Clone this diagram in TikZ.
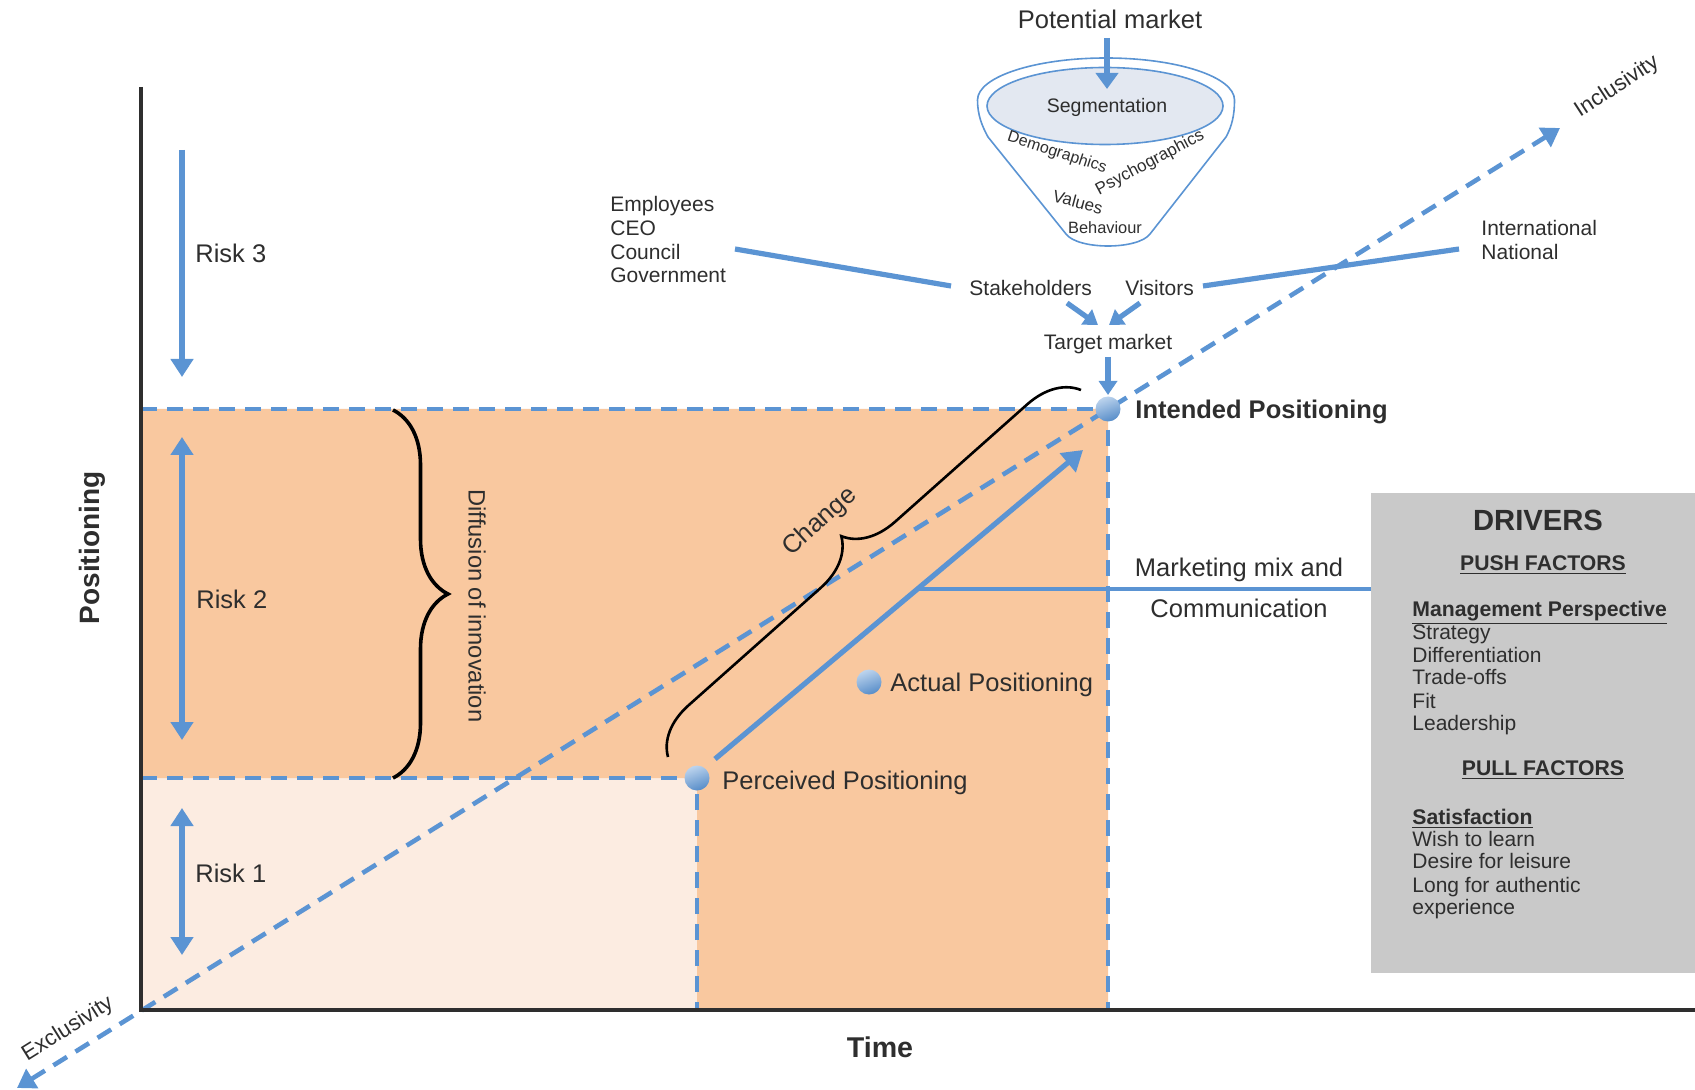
\documentclass[tikz,border=0pt]{standalone}
\usepackage{fontspec}
\setmainfont{Liberation Sans}
\usetikzlibrary{arrows.meta,decorations.pathreplacing,shadings}
\definecolor{bl}{HTML}{5B94D3}
\definecolor{orA}{HTML}{F9C89F}
\definecolor{orB}{HTML}{FCECE1}
\definecolor{txtc}{HTML}{2E2E2E}
\definecolor{boxg}{HTML}{C9C9C9}
\definecolor{segf}{HTML}{E3E8F1}
\begin{document}
\begin{tikzpicture}[x=0.5pt,y=-0.5pt,
 every node/.style={inner sep=0pt, text=txtc},
 fA/.style={font=\fontsize{12.75}{15}\selectfont},
 fAb/.style={font=\fontsize{12.75}{15}\selectfont\bfseries},
 fB/.style={font=\fontsize{10.5}{12.6}\selectfont},
 fBb/.style={font=\fontsize{10.6}{12.6}\selectfont\bfseries},
 bdash/.style={draw=bl, line width=2.3pt, dash pattern=on 8pt off 5pt},
 bsolid/.style={draw=bl, line width=2.6pt},
 atip/.style={-{Triangle[width=11pt,length=9pt]}},
 btip/.style={{Triangle[width=11pt,length=9pt]}-{Triangle[width=11pt,length=9pt]}},
 stip/.style={-{Triangle[width=9pt,length=7pt]}},
 bdot/.style={circle, minimum size=12.5pt, top color=bl!40!white, bottom color=bl!95!black, shading angle=20},
 funl/.style={draw=bl, line width=0.8pt},
 bracel/.style={draw=black, decorate},
]
\useasboundingbox (0,0) rectangle (1695,1090);

% regions
\fill[orB] (141,778) rectangle (697,1010);
\fill[orA] (141,409) -- (1108,409) -- (1108,1010) -- (697,1010) -- (697,778) -- (141,778) -- cycle;
\fill[boxg] (1371,493) rectangle (1695,973);

% dashed frame lines
\draw[bdash] (141,409) -- (1108,409) -- (1108,1010);
\draw[bdash] (141,778) -- (697,778) -- (697,1010);

% diagonal
\coordinate (exA) at (17,1088);
\coordinate (inA) at (1560,128);
\draw[bdash, btip] (exA) -- (inA);

% axes
\draw[line width=2pt, draw=txtc] (141,87) -- (141,1010) -- (1695,1010);

% braces
\coordinate (dbt) at (393,410);
\coordinate (dbb) at (393,778);
\draw[bracel, line width=1.8pt, decoration={brace, amplitude=27.5pt}] (dbt) -- (dbb);
\coordinate (cbA) at (668,757);
\coordinate (cbB) at (1081,390);
\draw[bracel, line width=1.3pt, decoration={brace, amplitude=25pt}] (cbA) -- (cbB);

% risk arrows
\coordinate (r3a) at (182,150); \coordinate (r3b) at (182,377);
\coordinate (r2a) at (182,437); \coordinate (r2b) at (182,740);
\coordinate (r1a) at (182,808); \coordinate (r1b) at (182,955);
\draw[bsolid, atip] (r3a) -- (r3b);
\draw[bsolid, btip] (r2a) -- (r2b);
\draw[bsolid, btip] (r1a) -- (r1b);
\node[fA, anchor=base west] (risk3) at (195,263) {Risk 3};
\node[fA, anchor=base west] (risk2) at (196,608) {Risk 2};
\node[fA, anchor=base west] (risk1) at (195,882) {Risk 1};

% solid change arrow and marketing line
\coordinate (pa) at (715,759);
\coordinate (pb) at (1083,450);
\draw[bsolid, -{Triangle[width=12pt,length=10pt]}] (pa) -- (pb);
\coordinate (mk) at (917,589);
\coordinate (mkB) at (1371,589);
\draw[draw=bl, line width=2pt] (mk) -- (mkB);

% funnel
\draw[funl] (977.5,100) arc[start angle=180, end angle=360, x radius=128.5, y radius=42]
  .. controls (1234.5,115) and (1232,126) .. (1226,137) -- (1150,234)
  .. controls (1138,250) and (1078,250) .. (1066,234) -- (988,137)
  .. controls (982,126) and (977.5,115) .. (977.5,100) -- cycle;
\draw[funl, fill=segf] (1105,106) ellipse [x radius=118, y radius=38.5];
\node[font=\fontsize{9.75}{11}\selectfont, anchor=base] (seg) at (1107,113) {Segmentation};
\node[font=\fontsize{8}{9}\selectfont, rotate=-18] (demo) at (1057,153) {Demographics};
\node[font=\fontsize{8.5}{9}\selectfont, rotate=28] (psy) at (1150,163) {Psychographics};
\node[font=\fontsize{8.5}{9}\selectfont, rotate=-15] (val) at (1078,202) {Values};
\node[font=\fontsize{8.2}{9}\selectfont] (beh) at (1105,228) {Behaviour};

\node[fA, anchor=base] (pm) at (1110,29) {Potential market};
\coordinate (pmA) at (1107,38);
\coordinate (pmB) at (1107,89);
\draw[bsolid, -{Triangle[width=11pt,length=8pt]}] (pmA) -- (pmB);

% stakeholders
\foreach \t/\y in {Employees/211.5, CEO/235.5, Council/259.5, Government/282.5}
  \node[fB, anchor=base west] at (610,\y) {\t};
\node[fB, anchor=base west] (intl) at (1481,235.5) {International};
\node[fB, anchor=base west] (natl) at (1481,259.5) {National};
\node[fB, anchor=base west] (stk) at (969,295.5) {Stakeholders};
\node[fB, anchor=base west] (vis) at (1125,295.5) {Visitors};
\node[fB, anchor=base] (tgt) at (1108,349.5) {Target market};
\coordinate (empE) at (735,249); \coordinate (stkW) at (951,286);
\coordinate (visE) at (1203,286); \coordinate (natW) at (1459,249);
\draw[bsolid] (empE) -- (stkW);
\draw[bsolid] (visE) -- (natW);
\coordinate (s1) at (1067,303); \coordinate (s2) at (1098,325);
\coordinate (v1) at (1140,303); \coordinate (v2) at (1109,325);
\draw[bsolid, stip] (s1) -- (s2);
\draw[bsolid, stip] (v1) -- (v2);
\coordinate (t1) at (1108,357); \coordinate (t2) at (1108,395);
\draw[bsolid, stip] (t1) -- (t2);

% dots and labels
\node[bdot] (ipd) at (1108,409) {};
\node[bdot] (ppd) at (697,778) {};
\node[bdot] (apd) at (869,682) {};
\node[fAb, anchor=base west] (ipl) at (1135,419) {Intended Positioning};
\node[fA, anchor=base west] (apl) at (890,691) {Actual Positioning};
\node[fA, anchor=base west] (ppl) at (722,789) {Perceived Positioning};
\node[fA, anchor=base] (mm1) at (1239,576) {Marketing mix and};
\node[fA, anchor=base] (mm2) at (1239,617) {Communication};

% brace labels and axes labels
\node[font=\fontsize{11.85}{14}\selectfont, rotate=-90] (dif) at (477,606) {Diffusion of innovation};
\node[fA, rotate=42] (chg) at (820,522) {Change};
\node[font=\fontsize{14}{16}\selectfont\bfseries, rotate=90] (posl) at (92,548) {Positioning};
\node[font=\fontsize{14.3}{16}\selectfont\bfseries] (time) at (880,1047) {Time};
\node[font=\fontsize{11}{13}\selectfont, rotate=32] (exl) at (68,1029) {Exclusivity};
\node[font=\fontsize{11}{13}\selectfont, rotate=33] (inl) at (1617,87) {Inclusivity};

% drivers box
\node[font=\fontsize{14.6}{16}\selectfont\bfseries] (drv) at (1538,520) {DRIVERS};
\node[fBb, anchor=base] (push) at (1543,570.5) {\underline{PUSH FACTORS}};
\node[fBb, anchor=base west] (mgmt) at (1412,616.5) {\underline{Management Perspective}};
\foreach \t/\y in {Strategy/639.5, Differentiation/662.5, Trade-offs/684.5, Fit/708.5, Leadership/730.5}
  \node[fB, anchor=base west] at (1412,\y) {\t};
\node[fBb, anchor=base] (pull) at (1543,775.5) {\underline{PULL FACTORS}};
\node[fBb, anchor=base west] (sat) at (1412,824.5) {\underline{Satisfaction}};
\foreach \t/\y in {Wish to learn/846.5, Desire for leisure/868.5, Long for authentic/892.5, experience/914.5}
  \node[fB, anchor=base west] at (1412,\y) {\t};
\end{tikzpicture}
\end{document}
